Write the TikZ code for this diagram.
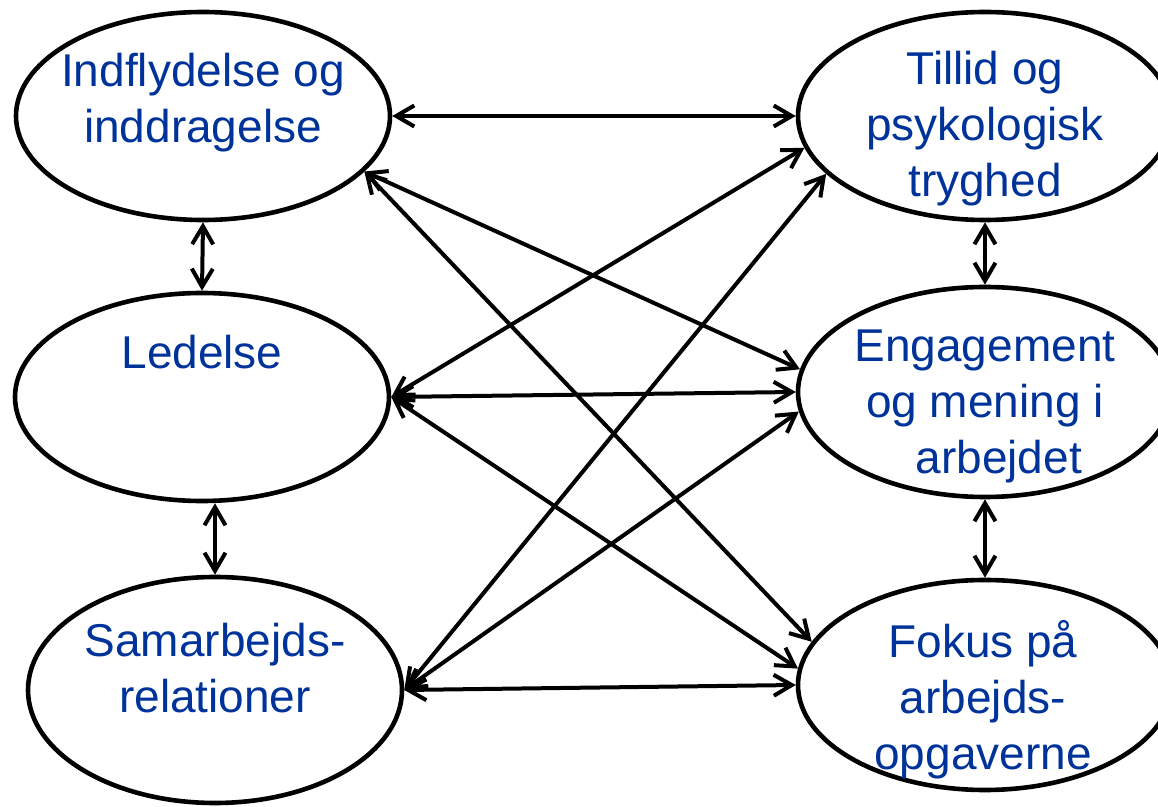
\documentclass[tikz,border=0pt]{standalone}
\usepackage{fontspec}
\setmainfont{Liberation Sans}
\usetikzlibrary{shapes.geometric,arrows.meta}
\definecolor{factorblue}{RGB}{0,51,153}
\tikzset{
  factor/.style={draw,ellipse,line width=2.3pt,minimum width=187pt,minimum height=104pt,inner sep=0pt},
  factortext/.style={text=factorblue,font=\fontsize{23}{28}\selectfont,align=center,inner sep=0pt},
  link/.style={line width=2pt,{Straight Barb[length=9pt,width=10.5pt]}-{Straight Barb[length=9pt,width=10.5pt]}}
}
\begin{document}
\begin{tikzpicture}[x=0.5pt,y=-0.5pt]
  \useasboundingbox (0,0) rectangle (1158,807);
  % left column
  \node[factor] (ind) at (203,116) {};
  \node[factor] (led) at (202,397) {};
  \node[factor,minimum height=113pt] (sam) at (215,690) {};
  % right column
  \node[factor] (til) at (985,116) {};
  \node[factor,minimum height=105pt] (eng) at (985,392) {};
  \node[factor,minimum height=105pt] (fok) at (985,685) {};
  % texts
  \node[factortext] (indtxt) at (203,103) {Indflydelse og\\inddragelse};
  \node[factortext] (ledtxt) at (202,352) {Ledelse};
  \node[factortext] (samtxt) at (215,668) {Samarbejds-\\relationer};
  \node[factortext] (tiltxt) at (985,129) {Tillid og\\psykologisk\\tryghed};
  \node[factortext] (engtxt) at (985,406) {Engagement\\og mening i\\\hspace{0.6em}arbejdet};
  \node[factortext] (foktxt) at (983,700) {Fokus på\\arbejds-\\opgaverne};
  % links
  \draw[link] (ind.south) -- (led.north);
  \draw[link] (sam.north |- led.south) -- (sam.north);
  \draw[link] (til.south) -- (eng.north);
  \draw[link] (eng.south) -- (fok.north);
  \draw[link] (ind.east) -- (til.west);
  \draw[link] (led.east) -- (eng.west);
  \draw[link] (sam.east) -- (fok.west);
  \draw[link] (ind.-19) -- (eng.173);
  \draw[link] (ind.-19) -- (fok.166);
  \draw[link] (led.east) -- (til.-170);
  \draw[link] (led.east) -- (fok.175);
  \draw[link] (sam.east) -- (til.-160);
  \draw[link] (sam.east) -- (eng.-174);
\end{tikzpicture}
\end{document}
